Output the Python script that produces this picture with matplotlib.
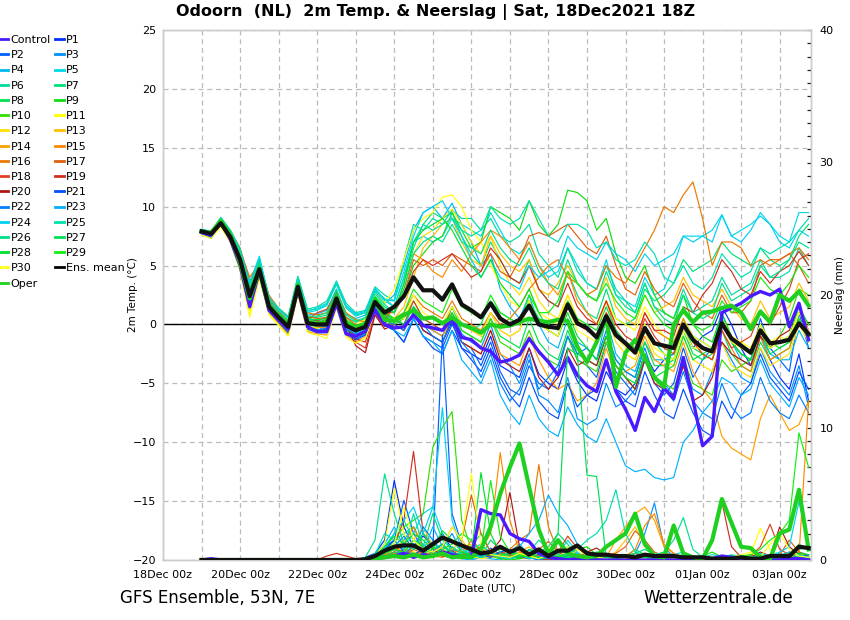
import matplotlib
matplotlib.use("Agg")
import matplotlib.pyplot as plt
import matplotlib.dates as mdates
from matplotlib.ticker import MultipleLocator
from matplotlib.lines import Line2D
import datetime as dt

# ---------------- time axis: 6-hourly steps from 19Dec2021 00z ----------------
run_start = dt.datetime(2021, 12, 18, 18)
steps_h = [6 * (k + 1) for k in range(64)]
times = [run_start + dt.timedelta(hours=h) for h in steps_h]
tick_dates = [dt.datetime(2021, 12, 18) + dt.timedelta(days=2 * k) for k in range(9)]

# ---------------- 2m temperature (°C) ----------------
temp_control = [7.8,7.6,8.7,7.2, 5.0,1.5,4.5,1.2, 0.4,-0.4,3.0,-0.2, -0.6,-0.6,1.8,-0.8,
                -1.0,-0.6,1.2,0.0, -0.3,-0.2,0.8,-0.1, -0.3,-0.5,0.5,-1.1, -1.3,-2.0,-2.3,-3.2,
                -3.0,-2.6,-1.2,-2.3, -3.2,-4.3,-2.8,-4.3, -5.2,-5.7,-3.0,-5.7, -7.2,-9.0,-6.2,-7.4,
                -5.4,-6.3,-2.8,-6.4, -10.3,-9.5,1.0,1.4, 1.8,2.4,2.8,2.5, 3.0,-0.2,1.8,-1.3]
temp_oper = [7.9,7.8,8.8,7.6, 5.3,2.2,4.6,1.5, 0.8,0.0,3.3,0.2, 0.0,0.3,2.3,0.0,
             -0.3,0.0,2.1,0.4, 0.3,0.8,1.2,0.5, 0.6,0.1,0.6,0.0, -0.3,-0.7,0.0,-0.2,
             -0.1,0.2,0.5,0.3, 0.2,0.4,0.3,-1.9, -3.2,-1.5,0.6,-5.3, -2.4,-1.3,-2.8,-4.5,
             -5.3,0.0,1.2,0.2, 1.0,1.1,1.4,1.6, 1.0,-0.4,1.1,0.2, 2.5,2.0,2.8,1.6]
temp_mean = [7.9,7.7,8.6,7.4, 5.5,2.4,4.7,1.5, 0.6,-0.2,3.2,0.1, 0.0,0.0,2.2,-0.1,
             -0.5,-0.2,1.9,1.0, 1.5,2.4,4.0,2.9, 2.9,2.1,3.4,1.7, 1.2,0.6,1.8,0.5,
             0.0,0.4,1.6,0.0, -0.2,-0.3,1.7,0.1, -0.3,-1.1,0.7,-0.9, -1.6,-2.4,-0.3,-1.6,
             -1.8,-2.0,0.0,-1.3, -2.0,-2.3,0.1,-1.2, -1.8,-2.4,-0.5,-1.6, -1.5,-1.3,0.1,-0.8]
temp_p1 = [7.8,7.5,8.4,7.0, 5.0,1.8,4.4,1.2, 0.3,-0.6,2.8,-0.3, -0.5,-0.4,1.8,-0.5,
           -0.9,-0.5,1.4,0.2, 0.0,-0.5,1.0,-0.5, -1.0,-1.5,0.2,-2.0, -2.5,-3.0,-1.0,-3.5,
           -4.0,-4.5,-2.0,-4.2, -5.0,-5.5,-3.0,-4.8, -6.0,-6.5,-4.0,-5.5, -6.0,-5.0,-2.5,-4.0,
           -3.0,-2.5,-0.5,-2.0, -1.0,-0.5,1.5,0.0, -2.0,-3.5,-1.0,-3.0, -4.5,-5.5,-2.5,-6.5]
temp_p2 = [7.7,7.3,8.5,7.3, 5.2,2.0,4.9,1.6, 0.5,-0.3,3.4,0.4, -0.2,-0.5,1.6,-0.6,
           -1.2,-0.8,1.2,0.0, -0.5,-1.5,0.5,-1.0, -1.5,-2.0,0.0,-1.5, -2.0,-3.5,-1.5,-4.0,
           -5.5,-6.0,-3.5,-5.0, -5.5,-4.0,-1.0,-3.0, -3.5,-4.5,-1.5,-4.0, -5.0,-6.0,-3.0,-5.0,
           -6.0,-5.0,-2.0,-4.5, -3.0,-2.0,0.5,-1.5, -2.5,-3.0,0.5,-2.0, -3.0,-4.0,1.0,-2.0]
temp_p3 = [7.9,7.6,8.7,7.6, 5.8,2.8,5.0,1.8, 0.8,0.0,3.6,0.5, 0.3,0.2,2.5,0.2,
           -0.3,-0.5,1.6,0.5, 0.3,0.0,1.5,0.0, -0.5,-1.0,1.0,-0.8, -1.5,-2.0,0.0,-2.5,
           -3.5,-5.0,-2.5,-6.0, -6.5,-7.5,-4.5,-8.0, -8.5,-8.0,-5.0,-7.0, -6.5,-5.5,-2.5,-4.5,
           -5.0,-6.0,-3.5,-5.5, -6.0,-4.0,-1.5,-3.0, -4.5,-5.0,-2.0,-4.0, -5.0,-6.0,-3.5,-7.0]
temp_p4 = [8.0,7.8,8.8,7.8, 6.0,3.2,5.6,2.0, 1.0,0.3,3.8,0.8, 0.9,1.2,3.0,0.9,
           0.5,0.8,2.8,1.8, 2.5,5.0,8.0,9.5, 10.0,9.0,10.3,8.5, 7.0,5.0,6.0,3.0,
           1.5,0.5,2.5,0.0, -1.5,-2.0,0.5,-1.5, -2.0,-3.0,0.5,-2.5, -3.5,-4.0,-1.5,-3.0,
           -3.0,-2.5,0.5,-1.0, -1.5,-2.0,1.0,-1.5, -3.0,-3.5,-1.0,-2.5, -3.0,-3.0,-0.5,-2.0]
temp_p5 = [8.1,7.9,8.9,7.9, 6.2,3.5,5.8,2.2, 1.2,0.5,4.0,1.0, 1.2,1.6,3.5,1.5,
           0.8,1.0,3.0,2.0, 1.5,4.0,7.0,7.5, 7.0,7.5,9.0,8.5, 8.0,7.5,9.5,8.0,
           6.5,6.0,7.0,5.0, 4.0,4.5,6.5,5.0, 3.5,3.0,5.5,2.5, 2.0,1.5,4.0,2.5,
           3.0,5.0,7.5,7.5, 7.5,8.0,9.3,7.5, 8.0,8.5,9.2,8.5, 7.5,7.0,9.5,9.5]
temp_p6 = [8.0,7.9,9.1,8.0, 6.4,3.4,5.5,2.4, 1.4,0.7,4.1,1.3, 1.5,2.0,3.7,1.8,
           1.0,1.2,3.2,2.5, 2.0,5.5,8.5,8.0, 9.0,8.5,9.7,9.0, 9.0,8.0,9.0,7.5,
           7.0,7.5,8.5,6.0, 5.0,4.0,6.5,4.5, 3.5,3.0,5.0,3.0, 2.0,1.0,3.5,1.5,
           1.0,0.5,3.0,1.0, 1.5,2.0,4.0,2.5, 3.0,3.5,5.5,4.0, 4.0,4.5,6.5,5.0]
temp_p7 = [7.9,7.8,8.8,7.7, 5.9,3.0,5.2,1.9, 0.9,0.2,3.5,0.6, 0.6,0.8,2.8,0.6,
           0.2,0.5,2.4,1.5, 1.0,3.5,6.5,8.5, 9.5,9.0,9.5,7.5, 6.0,5.0,7.0,5.5,
           4.0,3.5,5.5,3.0, 2.0,1.5,4.5,2.5, 1.0,0.5,3.0,0.5, 0.0,0.5,3.0,2.0,
           2.5,3.5,5.5,4.5, 5.0,5.5,7.0,6.0, 5.5,5.0,6.5,5.5, 5.0,5.5,7.5,8.5]
temp_p8 = [7.8,7.6,8.6,7.4, 5.4,2.5,4.6,1.4, 0.5,-0.2,3.1,0.0, -0.2,-0.1,2.0,-0.2,
           -0.6,-0.4,1.7,0.6, 0.5,0.0,1.5,0.5, 0.0,-0.5,1.5,-0.5, -1.0,-1.5,0.5,-1.0,
           -1.5,-2.0,0.5,-1.5, -2.5,-3.0,-0.5,-2.5, -3.0,-3.5,-1.0,-3.0, -4.0,-4.5,-1.5,-3.5,
           -3.5,-3.0,0.0,-2.0, -2.5,-3.0,-0.5,-2.5, -3.5,-4.0,-1.5,-3.0, -2.5,-2.0,0.5,-1.5]
temp_p9 = [7.9,7.7,8.7,7.5, 5.6,2.6,4.8,1.6, 0.7,-0.1,3.3,0.3, 0.2,0.4,2.4,0.3,
           -0.2,0.0,2.2,1.2, 1.0,2.5,5.0,6.0, 7.0,7.5,9.5,8.0, 6.5,7.0,10.0,9.5,
           9.0,8.0,10.5,8.5, 7.5,8.5,11.4,11.2, 10.5,8.0,9.0,6.0, 4.0,3.5,5.0,2.5,
           1.0,0.5,2.5,0.0, -1.0,-1.5,1.0,-1.0, -2.0,-2.5,0.0,-1.5, -2.0,-1.5,1.0,0.0]
temp_p10 = [7.8,7.5,8.5,7.2, 5.1,2.0,4.5,1.3, 0.4,-0.4,3.0,-0.1, -0.4,-0.6,1.8,-0.5,
            -1.0,-0.8,1.5,0.3, 0.0,0.5,2.0,0.5, 0.5,0.0,1.0,-0.5, -1.0,-1.5,0.5,-1.5,
            -2.0,-2.5,-0.5,-2.5, -3.0,-3.5,-1.0,-3.0, -3.5,-4.0,-1.5,-3.5, -4.5,-5.5,-2.5,-4.5,
            -5.0,-5.5,-3.0,-5.0, -5.5,-6.0,-3.0,-4.0, -3.5,-3.0,-0.5,-2.0, -1.0,0.5,3.0,2.5]
temp_p11 = [7.6,7.4,8.3,7.0, 4.6,0.8,4.0,0.9, 0.0,-0.8,2.6,-0.5, -0.6,-0.2,2.4,0.4,
            0.0,0.4,2.6,1.8, 3.0,5.5,8.0,9.0, 9.5,10.8,11.0,10.0, 8.0,7.0,5.0,3.5,
            2.0,1.5,3.0,1.0, 0.5,0.0,2.5,0.5, 0.0,-0.5,2.0,0.5, 0.0,-0.5,1.5,0.0,
            -1.0,-1.5,0.5,-1.0, -1.5,-2.0,0.5,-1.0, -1.5,-2.0,0.0,-1.5, -1.0,-1.5,1.0,0.0]
temp_p12 = [7.7,7.5,8.4,7.1, 4.8,1.2,4.2,1.0, 0.2,-0.6,2.9,-0.2, -0.3,0.0,2.3,0.2,
            -0.3,0.1,2.2,1.2, 1.0,3.0,6.0,7.5, 8.0,9.0,9.8,8.5, 7.0,6.0,7.5,5.0,
            3.5,2.5,4.0,2.0, 1.0,0.5,2.5,0.5, -0.5,-1.0,1.0,-1.5, -2.5,-3.0,-0.5,-2.5,
            -3.0,-3.5,-1.0,-3.0, -3.5,-4.0,-1.5,-3.5, -4.0,-4.5,-2.0,-3.5, -3.0,-2.5,0.0,-1.5]
temp_p13 = [7.8,7.6,8.5,7.3, 5.2,1.8,4.5,1.4, 0.5,-0.3,3.1,0.1, 0.0,0.2,2.4,0.1,
            -0.4,-0.1,2.0,0.9, 0.5,1.5,4.0,6.5, 7.5,8.5,9.0,7.0, 5.5,5.0,7.5,6.0,
            5.0,4.5,5.5,3.0, 2.5,3.5,5.0,3.5, 2.5,2.0,4.0,1.5, 0.5,0.0,2.5,1.0,
            1.5,2.0,4.0,2.5, 2.0,1.5,3.0,1.5, 0.5,0.0,2.0,0.5, 1.0,1.5,3.5,2.0]
temp_p14 = [7.7,7.4,8.4,7.2, 4.9,1.5,4.3,1.1, 0.1,-0.9,2.7,-0.6, -0.8,-0.9,1.5,-0.9,
            -1.5,-1.0,1.3,0.1, 0.0,-0.5,1.0,0.0, -0.5,-1.0,0.5,-1.5, -2.0,-2.5,-0.5,-2.5,
            -3.0,-3.5,-1.0,-3.0, -4.5,-5.5,-5.0,-6.5, -6.0,-5.0,-2.0,-4.5, -4.0,-3.5,-1.0,-3.0,
            -3.5,-4.0,-1.5,-4.0, -5.5,-6.5,-9.5,-10.5, -11.0,-11.5,-8.0,-6.0, -7.5,-9.0,-8.5,-6.5]
temp_p15 = [7.8,7.5,8.6,7.4, 5.4,2.2,4.6,1.5, 0.5,-0.3,3.2,0.2, -0.2,-0.3,2.0,-0.3,
            -0.9,-0.6,1.6,0.6, 1.5,3.0,6.0,5.5, 4.5,4.0,5.5,4.5, 6.0,7.0,8.0,7.5,
            6.5,5.5,7.0,5.0, 3.5,2.5,4.5,2.0, 1.0,0.0,2.0,-0.5, -1.5,-2.0,1.0,-0.5,
            -1.0,-1.5,0.5,-1.5, -2.5,-3.0,-0.5,-2.0, -3.5,-4.0,-1.0,-3.0, -2.5,-2.0,0.5,-1.0]
temp_p16 = [7.9,7.7,8.8,7.8, 6.3,4.0,5.2,2.5, 1.3,0.6,3.6,1.0, 0.8,1.0,2.8,1.0,
            0.4,0.2,2.1,0.9, 0.5,1.0,2.5,1.5, 1.0,0.5,2.0,0.5, 0.0,-0.5,1.0,0.0,
            0.5,1.5,3.0,4.0, 5.0,5.5,4.0,3.5, 2.5,3.0,5.0,4.0, 3.5,5.0,6.5,8.0,
            10.0,9.5,11.0,12.1, 9.0,5.0,7.0,7.0, 6.5,5.0,5.5,5.0, 5.5,6.0,6.5,5.5]
temp_p17 = [8.0,7.8,8.9,7.9, 6.5,3.7,5.0,2.2, 1.1,0.3,3.4,0.7, 0.5,0.6,2.6,0.6,
            0.0,-0.2,2.0,1.0, 1.0,2.5,5.5,5.0, 5.5,5.0,6.0,5.5, 5.0,4.5,6.0,4.5,
            4.0,5.5,7.5,7.8, 7.5,8.0,8.5,7.5, 6.5,6.0,7.5,5.0, 3.0,2.5,4.5,3.0,
            2.0,1.5,3.5,2.0, 1.0,0.5,2.5,1.0, 1.0,2.0,5.0,5.5, 5.5,6.0,5.0,3.5]
temp_p18 = [7.9,7.7,8.7,7.6, 5.9,3.1,4.9,1.9, 0.8,0.1,3.3,0.4, 1.0,1.3,2.7,0.5,
            -1.5,-2.0,0.9,-0.2, 0.5,0.0,2.0,0.5, 0.0,-0.5,1.5,0.0, -0.5,-1.0,1.0,-0.5,
            -1.0,-0.5,2.0,0.0, -0.5,-1.0,1.5,0.0, -0.5,-1.0,1.0,-0.5, -1.5,-2.0,0.5,-1.0,
            -2.0,-2.5,0.0,-1.5, -2.5,-3.0,-0.5,-2.0, -1.5,-1.0,1.0,0.0, 1.5,3.0,5.5,6.0]
temp_p19 = [7.9,7.7,8.6,7.5, 5.7,2.8,4.8,1.7, 0.7,0.0,3.2,0.3, 0.3,0.6,2.5,0.4,
            -1.2,-1.5,1.2,0.4, 1.5,2.5,4.5,5.5, 5.0,5.5,6.0,5.0, 4.0,4.5,6.5,5.5,
            4.0,3.5,5.0,3.0, 2.0,1.5,3.5,1.5, 0.5,0.0,2.0,0.0, -1.0,-1.5,1.0,-0.5,
            -0.5,-1.0,1.5,1.0, 2.5,3.5,5.5,4.5, 3.0,2.5,4.5,3.5, 4.5,5.0,6.2,5.0]
temp_p20 = [7.8,7.6,8.5,7.4, 5.4,2.4,4.6,1.5, 0.6,-0.2,3.0,0.0, 0.1,0.4,2.2,0.0,
            -1.8,-2.4,0.8,-0.4, 0.0,-0.5,1.0,-0.5, -1.0,-1.5,0.5,-1.5, -2.0,-2.5,-0.5,-3.0,
            -3.5,-4.0,-2.0,-4.5, -5.5,-4.5,-2.0,-3.5, -3.0,-3.5,-1.0,-3.5, -4.5,-5.5,-3.0,-5.0,
            -5.5,-6.0,-3.5,-6.5, -6.0,-4.5,-1.5,-2.5, -3.0,-3.5,-1.0,-2.0, -1.0,-0.5,1.5,-0.5]
temp_p21 = [7.7,7.4,8.4,7.1, 5.0,1.6,4.3,1.1, 0.2,-0.7,2.8,-0.4, -0.7,-0.7,1.6,-0.8,
            -1.3,-0.9,1.3,-0.1, -0.5,-1.5,0.5,-1.0, -2.0,-2.5,-0.5,-2.0, -3.0,-4.0,-2.0,-4.5,
            -6.0,-7.0,-4.5,-6.5, -7.5,-8.0,-5.0,-7.0, -6.0,-5.5,-3.0,-5.5, -6.5,-7.0,-4.0,-6.0,
            -7.5,-8.0,-5.5,-7.5, -9.0,-9.5,-6.5,-8.0, -6.0,-5.0,-2.5,-4.5, -5.5,-6.5,-4.0,-5.5]
temp_p22 = [7.8,7.5,8.5,7.3, 5.3,2.1,4.5,1.4, 0.4,-0.5,3.0,-0.2, -0.5,-0.3,1.9,-0.4,
            -0.8,-0.6,1.5,0.3, 0.0,-0.5,1.0,0.0, -1.0,-1.5,0.5,-1.5, -2.5,-4.5,-2.5,-5.0,
            -6.5,-5.5,-3.0,-5.5, -4.5,-3.5,-1.0,-2.5, -2.0,-3.0,-0.5,-3.0, -4.0,-4.5,-2.0,-4.5,
            -5.5,-6.5,-4.0,-6.5, -7.5,-8.0,-5.0,-7.0, -8.0,-7.5,-4.5,-6.5, -7.5,-8.0,-6.0,-7.5]
temp_p23 = [7.9,7.6,8.6,7.5, 5.6,2.5,4.9,1.7, 0.7,0.0,3.4,0.3, -0.1,-0.2,2.1,-0.3,
            -0.7,-0.5,1.6,0.4, -0.5,-1.0,0.5,-1.0, -1.5,-2.5,-0.5,-3.0, -4.0,-5.0,-3.0,-6.0,
            -7.5,-8.5,-6.0,-8.0, -9.0,-9.5,-7.0,-8.5, -9.5,-10.0,-8.0,-10.0, -12.0,-12.5,-12.3,-13.0,
            -13.2,-13.0,-10.0,-9.0, -7.5,-6.5,-4.5,-5.0, -6.0,-5.5,-3.0,-5.0, -6.0,-7.0,-4.5,-6.0]
temp_p24 = [8.0,7.8,8.9,7.9, 6.3,3.6,5.6,2.3, 1.2,0.6,3.9,1.1, 1.4,1.8,3.5,1.6,
            0.9,1.1,3.1,2.1, 2.0,4.5,7.5,9.5, 10.0,10.5,9.0,7.5, 5.5,4.0,5.5,4.0,
            3.5,3.0,5.0,4.0, 4.5,5.0,7.5,6.5, 6.0,5.5,7.0,6.0, 5.5,4.5,6.0,5.0,
            5.5,6.0,7.5,7.0, 7.5,7.0,9.3,7.5, 7.0,8.0,9.5,8.5, 7.0,6.5,8.0,7.5]
temp_p25 = [8.0,7.9,9.0,8.0, 6.4,3.3,5.4,2.3, 1.3,0.6,4.0,1.2, 1.3,1.7,3.4,1.4,
            0.7,1.0,2.9,2.2, 1.5,4.0,7.0,8.5, 8.0,8.5,9.0,8.0, 7.5,8.0,10.0,9.0,
            8.5,9.0,10.5,9.0, 7.5,7.0,8.5,8.5, 8.0,6.5,7.0,5.5, 5.0,5.5,7.0,6.0,
            4.0,3.5,5.0,3.5, 3.0,4.0,6.0,5.0, 4.0,4.5,6.5,6.0, 6.5,7.0,8.0,9.0]
temp_p26 = [7.9,7.8,8.9,7.8, 6.1,3.0,5.1,2.0, 1.0,0.3,3.6,0.7, 0.7,1.0,2.9,0.8,
            0.3,0.6,2.6,1.7, 1.0,3.0,6.0,7.0, 7.5,7.0,8.5,7.0, 6.5,6.0,8.0,6.5,
            5.5,5.0,6.5,4.5, 3.5,3.0,5.5,3.5, 2.5,2.0,4.5,2.5, 1.5,1.0,3.5,1.5,
            0.5,0.0,2.5,1.0, 0.5,1.0,3.5,2.0, 2.5,3.0,5.0,4.0, 4.5,5.5,7.0,6.5]
temp_p27 = [7.8,7.6,8.6,7.5, 5.5,2.6,4.8,1.6, 0.6,-0.1,3.2,0.2, 0.1,0.3,2.3,0.1,
            -0.4,-0.2,1.9,0.8, 0.5,0.0,1.5,0.5, 0.5,0.0,1.5,0.0, -0.5,0.0,2.0,1.0,
            0.5,0.0,2.0,0.5, 0.0,-0.5,2.0,0.5, 0.0,-0.5,1.5,-0.5, -1.5,-2.0,0.0,-1.5,
            -2.5,-3.0,-0.5,-2.5, -3.0,-2.5,0.0,-1.5, -2.5,-3.0,-0.5,-2.5, -2.0,-1.5,0.5,-1.0]
temp_p28 = [7.9,7.7,8.8,7.6, 5.8,2.9,5.0,1.8, 0.8,0.1,3.5,0.5, 0.4,0.5,2.6,0.4,
            -0.1,0.2,2.3,1.3, 1.0,3.5,7.0,8.0, 8.5,9.0,8.0,6.5, 5.0,4.0,5.5,3.5,
            2.5,1.5,3.0,1.0, -0.5,-1.0,1.0,-1.0, -2.0,-3.0,-1.0,-3.5, -4.5,-5.0,-2.5,-4.5,
            -4.0,-3.5,-1.0,-3.0, -2.5,-2.0,0.5,-1.5, -2.5,-3.0,-0.5,-2.0, -1.5,-1.0,1.5,0.0]
temp_p29 = [8.0,7.8,8.9,7.7, 5.7,2.7,4.9,1.7, 0.7,0.0,3.3,0.4, 0.2,0.3,2.4,0.3,
            -0.3,0.0,2.1,1.1, 0.5,1.0,3.0,2.0, 1.5,1.0,3.0,1.5, 1.0,0.5,2.5,1.0,
            0.5,0.0,2.5,1.0, 1.0,2.0,4.5,3.5, 2.5,2.0,3.5,2.0, 1.0,0.5,2.5,1.0,
            0.0,-0.5,1.5,0.0, -0.5,0.0,2.0,1.0, 1.5,2.0,4.0,3.0, 2.5,3.5,5.0,4.0]
temp_p30 = [7.6,7.3,8.3,6.9, 4.5,0.6,3.9,0.8, -0.1,-1.0,2.5,-0.7, -0.9,-1.2,1.4,-1.1,
            -1.6,-1.2,1.1,0.0, 0.5,0.5,2.5,1.0, 0.5,0.0,1.5,0.0, -0.5,-1.0,1.0,-0.5,
            -1.0,-0.5,2.0,0.0, -0.5,-1.0,1.5,-0.5, -1.0,-1.5,0.5,-1.0, -2.0,-2.5,0.0,-2.0,
            -2.5,-3.0,-0.5,-2.0, -2.0,-2.5,0.0,-1.5, -2.0,-2.5,-0.5,-2.0, -1.5,-1.0,1.0,-0.5]

# ---------------- 6-hourly precipitation (mm) ----------------
prec_control = [0,0.1,0,0, 0,0,0,0, 0,0,0,0, 0,0,0,0,
                0,0,0.1,0.2, 0.3,0.5,0.2,0.4, 0.3,0.6,0.4,0.3, 0.2,3.8,3.5,3.4,
                2.0,1.6,1.4,0.5, 0.2,0.1,0,0.1, 0.1,0,0,0, 0,0,0,0,
                0,0,0,0, 0,0.1,0.3,0.2, 0.1,0,0,0, 0,0.1,0.1,0]
prec_oper = [0,0,0,0, 0,0,0,0, 0,0,0,0, 0,0,0,0,
             0,0,0.1,0.2, 0.3,0.2,0.4,0.2, 0.3,0.5,0.2,0.3, 0.2,0.8,2.5,5.0,
             7.0,8.8,5.5,2.3, 0.4,1.5,0.5,0.3, 0.2,0.3,1.0,1.5, 2.0,3.5,1.2,0.3,
             0.2,2.6,0.5,0.2, 0.1,1.5,4.6,2.8, 1.0,0.9,0.2,0.1, 2.0,2.3,5.3,0.8]
prec_mean = [0,0,0,0, 0,0,0,0, 0,0,0,0, 0,0,0,0,
             0,0.05,0.3,0.7, 1.0,1.1,1.1,0.7, 1.2,1.7,1.4,1.1, 0.8,0.5,0.6,1.0,
             0.6,0.9,0.4,0.8, 0.3,0.7,0.7,1.1, 0.5,0.4,0.4,0.3, 0.3,0.2,0.4,0.3,
             0.3,0.3,0.2,0.2, 0.2,0.1,0.1,0.1, 0.2,0.1,0.1,0.3, 0.3,0.3,1.0,0.9]
prec_p1 = [0,0,0,0, 0,0,0,0, 0,0,0,0, 0,0,0,0,
           0,0.2,0.5,1.5, 6.0,2.5,1.0,1.8, 1.2,2.0,0.8,0.5, 0.3,1.0,0.6,0.2,
           0.4,0.2,0.8,0.3, 0.1,0.3,0.1,0, 0.2,0.1,0,0.1, 0,0,0.1,0,
           0,0.2,0.1,0, 0,0,0.1,0.3, 0.1,0,0,0.2, 0.3,0.6,0.4,0.1]
prec_p2 = [0,0.1,0.1,0, 0,0.1,0,0, 0,0,0,0, 0,0,0,0,
           0,0,0.3,1.0, 1.5,4.5,2.0,0.8, 0.8,17.0,3.5,1.2, 0.5,0.3,0.9,0.4,
           0.2,0.5,0.2,0.1, 0,0.1,0.3,0.2, 0.5,0.1,0,0, 0.2,0.1,0,0,
           0,0,0.1,0, 0,0,0,0.1, 0.2,0.1,0,0, 0,0.1,0.3,0.2]
prec_p3 = [0,0,0.1,0.1, 0.1,0,0,0, 0,0,0,0, 0,0,0,0,
           0,0,0.2,0.4, 0.8,1.5,2.5,1.0, 0.5,1.0,2.0,0.6, 0.3,0.2,0.5,0.2,
           0.1,0.3,0.2,0, 0,0.1,0,0, 0,0.2,0.4,0.2, 0.1,0.5,2.0,4.3,
           1.0,0.2,0.1,0, 0,0,0,0, 0,0.1,0.2,0, 0.1,0.2,0.1,0]
prec_p4 = [0,0,0,0, 0,0,0,0, 0,0,0,0, 0,0,0,0,
           0,0.1,0.4,1.2, 2.5,1.0,0.5,0.3, 0.2,0.5,0.3,0.1, 0,0.2,0.1,0,
           0.4,0.6,0.2,0.1, 0.3,0.5,1.0,0.5, 0.2,0,0.1,0, 0,0,0.2,0.1,
           0.3,0.5,0.2,0, 0.1,0,0,0, 0,0,0.1,0, 0.5,0.2,0.1,0]
prec_p5 = [0,0,0,0, 0,0,0,0, 0,0,0,0, 0,0,0,0,
           0,0,0.1,0.5, 1.2,0.8,2.0,3.5, 4.0,2.0,0.5,0.2, 0.1,0.3,0.4,0.1,
           0.6,1.2,0.4,0.2, 0.2,0.4,1.5,0.6, 0.1,0.3,0.2,0.1, 0,0.2,0.1,0,
           0.1,0.4,0.6,0.2, 0.1,0,0.2,0.3, 0.4,0.2,0.1,0, 0.2,0.5,0.8,1.0]
prec_p6 = [0,0,0,0, 0,0,0,0, 0,0,0,0, 0,0,0,0,
           0,0,0.5,1.0, 2.0,3.0,1.5,1.2, 0.6,0.3,1.0,0.4, 0.2,0.5,0.3,0.1,
           0.3,0.2,0.6,1.5, 0.8,0.4,0.2,0.1, 0,0.1,0.3,0.2, 0.4,0.3,0.1,0,
           0,0.1,0.3,0.2, 0.1,0,0.2,0.4, 0.2,0,0.1,0, 0.3,0.2,0.6,0.4]
prec_p7 = [0,0,0,0, 0,0,0,0, 0,0,0,0, 0,0,0,0,
           0,0.1,0.3,0.8, 1.5,2.0,2.5,1.0, 3.5,1.5,0.8,0.5, 1.0,2.0,0.6,0.3,
           0.2,0.1,0.3,0.2, 0.6,2.0,1.2,0.3, 0.2,0.1,0,0.1, 0.3,0.1,0.5,0.2,
           0,0,0.1,0, 0.2,0.1,0,0.1, 0,0.3,0.2,0.1, 0.5,0.3,1.2,0.8]
prec_p8 = [0,0,0,0, 0,0,0,0, 0,0,0,0, 0,0,0,0,
           0,0,0.2,0.6, 1.0,0.5,1.0,2.0, 1.2,0.8,0.4,0.6, 0.4,0.3,1.5,0.8,
           0.6,0.4,0.2,0.1, 0.3,0.1,0.1,0, 0.1,0.3,0.1,0, 0.2,0.8,0.4,0.1,
           0.1,0.2,0.1,0, 0,0.1,0,0.2, 0.3,0.2,0,0.1, 0.2,0.4,0.6,0.3]
prec_p9 = [0,0,0,0, 0,0,0,0, 0,0,0,0, 0,0,0,0,
           0,0,0.1,0.2, 0.3,0.6,0.4,0.2, 0.5,0.3,0.2,0.1, 0.2,0.4,0.3,0.1,
           0,0.1,0.2,0.1, 0.3,0.1,0.5,0.8, 1.0,0.4,0.1,0, 0.2,0.5,0.3,0.1,
           0.4,0.2,0.1,0, 0.3,0.6,0.2,0.1, 0.1,0.2,0.4,0.3, 0.2,0.1,0.2,0.1]
prec_p10 = [0,0,0,0, 0,0,0,0, 0,0,0,0, 0,0,0,0,
            0,0,0.2,0.5, 1.5,2.5,3.0,3.5, 8.5,10.0,11.2,3.0, 0.8,0.5,0.3,0.2,
            0.1,0.3,0.2,0.1, 0.2,0.1,0,0, 0,0.1,0.2,0.1, 0,0.1,0,0,
            0.2,0.1,0,0, 0,0.1,0.2,0, 0.1,0,0,0.1, 0.2,0.3,0.1,0.2]
prec_p11 = [0,0,0,0, 0,0,0,0, 0,0,0,0, 0,0,0,0,
            0,0,0.3,1.2, 5.4,2.0,0.6,0.3, 0.4,1.0,0.5,0.2, 0.3,0.1,0.2,0.4,
            0.2,0.5,0.3,0.1, 1.0,0.3,0.1,0, 0.1,0.2,0.5,0.3, 0.1,0,0.2,0.1,
            0,0.1,0.3,0.2, 0,0,0.1,0, 0,0.5,2.4,0.8, 0.2,0.1,0.3,0.1]
prec_p12 = [0,0,0,0, 0,0,0,0, 0,0,0,0, 0,0,0,0,
            0,0,0.2,0.4, 0.8,1.5,0.6,0.4, 0.9,0.5,0.3,0.7, 1.2,0.6,0.3,0.2,
            0.4,0.2,0.6,0.3, 0.1,0.2,0.1,0.8, 0.6,0.2,0.1,0, 0.1,0.2,0.1,0,
            0.3,0.1,0,0, 0.1,0.2,0.1,0, 0.2,0.1,0,0, 0.1,0.3,0.5,0.2]
prec_p13 = [0,0,0,0, 0,0,0,0, 0,0,0,0, 0,0,0,0,
            0,0,0.1,0.3, 1.0,0.6,1.5,2.5, 1.0,0.5,0.8,1.5, 0.6,0.3,0.2,0.4,
            0.3,0.6,1.0,0.4, 0.2,0.1,0.3,0.2, 0.1,0,0.2,0.6, 1.5,2.5,1.0,0.3,
            0.2,0.1,0,0, 0.1,0,0,0.1, 0.2,0.4,0.1,0, 0.3,0.2,0.1,0.2]
prec_p14 = [0,0,0,0, 0,0,0,0, 0,0,0,0, 0,0,0,0,
            0,0,0.1,0.6, 1.0,0.5,0.4,0.3, 0.6,0.3,1.0,0.5, 0.2,0.4,0.8,0.3,
            0.5,0.2,0.1,0.3, 0.6,0.2,0.1,0.4, 0.5,0.3,0.2,1.5, 2.5,3.5,4.0,3.0,
            1.0,0.5,0.2,0.1, 0,0,0.1,0, 0,0.1,0,0, 0.1,0,0.2,0.1]
prec_p15 = [0,0,0,0, 0,0,0,0, 0,0,0,0, 0,0,0,0,
            0,0,0.2,0.4, 0.6,1.2,2.5,1.0, 0.5,0.8,0.3,0.4, 1.5,0.8,2.0,8.1,
            3.0,0.6,0.4,0.2, 0.3,0.1,0.2,0.4, 0.2,0.1,0,0.2, 0.3,0.8,2.6,3.5,
            1.2,0.5,0.2,0, 0.1,0,0,0.1, 0.2,0,0,0.1, 0.1,0.2,0.3,12.0]
prec_p16 = [0,0,0,0, 0,0,0,0, 0,0,0,0, 0,0,0,0,
            0,0,0.1,0.3, 0.5,0.8,0.4,0.6, 0.3,0.2,0.5,0.8, 1.0,0.6,0.3,0.4,
            0.8,1.5,2.0,7.2, 2.5,0.6,0.2,0.1, 0.3,0.5,0.2,0.1, 0,0.2,0.5,0.3,
            0.6,0.3,0.1,0, 0,0.1,0,0, 0.1,0.3,0.2,0.1, 0.2,0.1,0,0.1]
prec_p17 = [0,0,0,0, 0,0,0,0, 0,0,0,0, 0,0,0,0,
            0,0,0.1,0.2, 0.4,0.3,0.8,0.5, 0.4,1.0,2.5,1.5, 4.9,2.0,0.6,0.3,
            0.2,0.5,0.3,0.8, 1.4,0.6,0.2,0.1, 0.2,0.1,0.3,0.5, 1.0,2.2,1.5,0.6,
            0.3,0.2,0.1,0, 0,0,0.2,0.1, 0,0.1,0.3,0.2, 0.4,1.5,0.6,0.3]
prec_p18 = [0,0,0,0, 0,0,0,0, 0,0,0,0, 0,0,0,0,
            0,0,0.1,0.3, 0.6,0.4,1.0,0.8, 0.5,0.3,0.2,0.4, 0.6,1.0,0.4,0.2,
            0.3,0.2,0.5,0.3, 0.2,0.6,1.8,0.9, 0.4,0.2,0.1,0, 0.1,0,0.3,0.2,
            0.5,0.3,0.1,0, 0,0.1,0,0, 0.1,0.3,1.0,2.7, 0.8,0.4,0.2,0.1]
prec_p19 = [0,0,0,0, 0,0,0,0, 0,0,0,0, 0,0.3,0.5,0.3,
            0.1,0,0.1,0.5, 1.2,3.0,8.2,2.0, 0.8,0.4,0.6,0.3, 0.2,0.5,0.3,0.6,
            0.4,0.2,0.3,0.1, 0,0.2,0.4,0.2, 0.1,0,0.2,0.1, 0.3,0.5,0.2,0.1,
            0,0,0.1,0, 0.2,1.5,4.4,1.0, 0.2,0.1,0,0, 0.1,0.2,0.1,0]
prec_p20 = [0,0,0,0, 0,0,0,0, 0,0,0,0, 0,0,0,0,
            0,0,0.1,0.2, 0.4,0.6,0.3,0.2, 0.3,0.5,0.7,0.2, 0.4,0.8,0.6,1.5,
            5.1,1.0,0.4,0.2, 0.3,0.1,0.2,0.1, 0.6,0.9,0.4,0.1, 0.2,0.1,0,0,
            0,0.2,0.1,0, 0,0.1,0,0, 0,0.2,0.6,0.3, 2.5,1.0,0.4,0.2]
prec_p21 = [0,0,0,0, 0,0,0,0, 0,0,0,0, 0,0,0,0,
            0,0,0.3,0.8, 1.5,0.6,0.4,0.8, 0.6,1.2,0.5,0.2, 0.3,0.4,0.2,0.6,
            0.8,0.3,0.1,0.2, 0.5,0.2,0.1,0, 0.1,0.4,0.2,0.1, 0,0.1,0.2,0.1,
            0,0,0.1,0.2, 0.3,0.1,0,0, 0,0.1,0.3,0.2, 0.1,0,0.2,0.4]
prec_p22 = [0,0,0,0, 0,0,0,0, 0,0,0,0, 0,0,0,0,
            0,0,0.2,0.6, 1.0,1.8,0.8,2.5, 1.5,0.6,0.3,0.2, 0.5,0.3,0.6,0.2,
            0.1,0.3,0.2,0, 0.2,0.1,0.3,0.1, 0,0.1,0.2,0.1, 0.4,0.2,0.1,0,
            0.1,0,0.1,0, 0,0,0.1,0, 0.1,0.2,0.1,0, 0,0.1,0.3,0.1]
prec_p23 = [0,0,0,0, 0,0,0,0, 0,0,0,0, 0,0,0,0,
            0,0,0.1,0.5, 0.8,0.4,1.2,0.6, 2.5,1.0,0.6,0.3, 0.2,0.6,0.4,0.3,
            0.5,1.0,2.0,3.0, 4.9,3.5,2.6,1.2, 0.5,0.2,0.1,0, 0,0.1,0,0,
            0.1,0,0,0, 0,0,0.1,0, 0.1,0,0,0, 0,0.2,0.1,0]
prec_p24 = [0,0,0,0, 0,0,0,0, 0,0,0,0, 0,0,0,0,
            0,0,0.2,0.8, 2.0,3.0,4.0,2.0, 4.0,11.5,3.0,0.8, 0.4,0.2,0.6,0.3,
            0.2,0.4,0.1,0.2, 0.3,0.1,0.2,0.1, 0.2,0.6,0.3,0.1, 0.1,0.3,0.2,0.1,
            0.3,0.2,0.1,0, 0.1,0.2,0.3,0.1, 0.2,0.1,0.5,0.3, 0.6,1.0,4.4,1.2]
prec_p25 = [0,0,0,0, 0,0,0,0, 0,0,0,0, 0,0,0,0,
            0,0.1,0.4,2.0, 1.5,0.8,3.5,1.0, 0.6,0.4,1.0,0.5, 0.8,1.2,0.4,0.2,
            0.1,0.3,0.6,0.2, 0.4,0.2,0.5,0.8, 1.5,2.0,3.0,5.3, 2.0,0.6,0.3,0.2,
            0.1,0.2,0.4,0.1, 0.2,0.4,0.3,0.1, 0.2,0.3,0.1,0.1, 0.3,0.6,0.4,0.2]
prec_p26 = [0,0,0,0, 0,0,0,0, 0,0,0,0, 0,0,0,0,
            0,0.2,1.5,6.5, 3.5,1.2,0.8,2.0, 1.0,0.5,0.3,0.6, 0.4,0.2,0.5,0.3,
            0.6,0.3,0.2,0.1, 0.2,0.4,0.3,0.1, 0.2,0.1,0,0.1, 0.3,0.5,0.8,0.4,
            0.6,1.5,3.2,0.8, 0.2,0.1,0,0, 0.1,0.2,0.1,0, 0.2,0.1,0.3,0.2]
prec_p27 = [0,0,0,0, 0,0,0,0, 0,0,0,0, 0,0,0,0,
            0,0,0.1,0.3, 0.6,0.4,0.3,0.5, 0.8,1.2,0.5,0.3, 0.2,0.6,0.4,0.3,
            0.5,0.3,0.8,0.6, 1.0,2.0,16.0,15.5, 6.4,6.3,0.2,0.1, 0,0.1,0.2,0.1,
            0,0.1,0,0, 0.1,0,0,0.1, 0.2,0.1,0,0, 0.1,0.2,0.1,0]
prec_p28 = [0,0,0,0, 0,0,0,0, 0,0,0,0, 0,0,0,0,
            0,0,0.3,1.0, 1.8,1.2,2.0,1.5, 0.8,2.2,1.5,0.6, 0.4,6.6,2.0,0.5,
            0.3,0.2,0.4,0.2, 0.1,0.3,0.2,0, 0.3,0.6,0.4,0.1, 0.2,0.1,0,0,
            0.1,0,0.2,0.1, 0,0.1,0,0, 0.1,0,0,0.2, 0.3,0.2,0.5,0.4]
prec_p29 = [0,0,0,0, 0,0,0,0, 0,0,0,0, 0,0,0,0,
            0,0,0.2,0.5, 0.8,0.6,1.5,1.0, 0.4,0.8,1.2,2.0, 1.5,0.6,6.0,1.8,
            0.6,0.4,0.2,0.5, 0.3,0.2,0.6,0.3, 0.2,0.1,0.3,0.2, 0.1,0.2,0.1,0,
            0.2,0.1,0.3,0.2, 0.1,0,0.2,0.1, 0.3,0.4,0.8,1.5, 2.0,3.0,9.6,7.0]
prec_p30 = [0,0,0,0, 0,0,0,0, 0,0,0,0, 0,0,0,0,
            0,0,0.2,0.6, 1.2,4.0,1.5,0.8, 0.6,1.0,2.5,1.5, 6.5,1.0,0.4,0.3,
            0.2,0.5,0.3,0.1, 0.4,0.6,1.0,0.8, 0.3,0.2,0.1,0, 0.1,0.2,0.1,0,
            0,0.1,0,0, 0,0.1,0.3,0.2, 0.4,0.6,0.2,1.2, 2.0,0.8,0.3,0.2]

member_names = ["P%d" % k for k in range(1, 31)]
member_colors = ["#0030ff", "#0060ff", "#0090ff", "#00b8f0", "#00d8e8", "#00dca0",
                 "#00e078", "#00e050", "#10dd10", "#30e000", "#ffff00", "#ffe000",
                 "#ffc000", "#ffa000", "#ff8800", "#e87800", "#e06010", "#e04020",
                 "#d03020", "#b01818", "#0050ff", "#0080ff", "#00b0ff", "#00d0f0",
                 "#00e0b0", "#00e088", "#00e058", "#00e030", "#10f010", "#ffff20"]
control_color = "#4a1aff"
oper_color = "#20d020"
mean_color = "#111111"

temp_members = [temp_p1, temp_p2, temp_p3, temp_p4, temp_p5, temp_p6, temp_p7, temp_p8,
                temp_p9, temp_p10, temp_p11, temp_p12, temp_p13, temp_p14, temp_p15,
                temp_p16, temp_p17, temp_p18, temp_p19, temp_p20, temp_p21, temp_p22,
                temp_p23, temp_p24, temp_p25, temp_p26, temp_p27, temp_p28, temp_p29, temp_p30]
prec_members = [prec_p1, prec_p2, prec_p3, prec_p4, prec_p5, prec_p6, prec_p7, prec_p8,
                prec_p9, prec_p10, prec_p11, prec_p12, prec_p13, prec_p14, prec_p15,
                prec_p16, prec_p17, prec_p18, prec_p19, prec_p20, prec_p21, prec_p22,
                prec_p23, prec_p24, prec_p25, prec_p26, prec_p27, prec_p28, prec_p29, prec_p30]

# ---------------- figure ----------------
plt.rcParams['font.family'] = ['DejaVu Sans']
fig = plt.figure(figsize=(8.5, 6.2), dpi=100)
ax = fig.add_axes([163/850, 60/620, 648/850, 530/620])
ax2 = ax.twinx()

grid_col = "#bbbbbb"
spine_col = "#cccccc"

# temperature
for vals, col in zip(temp_members, member_colors):
    ax.plot(times, vals, color=col, lw=0.85, zorder=3)
ax.plot(times, temp_control, color=control_color, lw=2.4, zorder=4)
ax.plot(times, temp_oper, color=oper_color, lw=3.0, zorder=5)
ax.plot(times, temp_mean, color=mean_color, lw=3.0, zorder=6)
ax.axhline(0, color="black", lw=1.0, zorder=2.5)

# precipitation
for vals, col in zip(prec_members, member_colors):
    ax2.plot(times, vals, color=col, lw=0.85, zorder=3)
ax2.plot(times, prec_control, color=control_color, lw=2.4, zorder=4)
ax2.plot(times, prec_oper, color=oper_color, lw=3.0, zorder=5)
ax2.plot(times, prec_mean, color=mean_color, lw=3.0, zorder=6)

ax.set_xlim(dt.datetime(2021, 12, 18, 0), dt.datetime(2022, 1, 3, 19, 30))
ax.set_ylim(-20, 25)
ax2.set_ylim(0, 40)

ax.set_xticks(tick_dates)
ax.xaxis.set_major_formatter(mdates.DateFormatter('%d%b %Hz'))
ax.xaxis.set_minor_locator(mdates.DayLocator())
ax.yaxis.set_major_locator(MultipleLocator(5))
ax.grid(True, which='both', axis='x', color=grid_col, ls=(0, (4, 3)), lw=0.9)
ax.grid(True, which='major', axis='y', color=grid_col, ls=(0, (4, 3)), lw=0.9)
ax.set_axisbelow(True)
ax.tick_params(axis='both', which='both', length=0, labelsize=8, pad=5)
ax.tick_params(axis='x', pad=7)

ax2.yaxis.set_major_locator(MultipleLocator(10))
ax2.yaxis.set_minor_locator(MultipleLocator(1))
ax2.tick_params(axis='y', which='both', direction='in', length=3, width=0.9,
                color='#222222', labelsize=8, pad=6)

for a in (ax, ax2):
    for s in a.spines.values():
        s.set_color(spine_col)
        s.set_linewidth(1.0)

ax.set_xlabel("Date (UTC)", fontsize=7.5, labelpad=3)
ax.set_ylabel("2m Temp. (°C)", fontsize=7.5, labelpad=-4)
ax2.set_ylabel("Neerslag (mm)", fontsize=7.5, labelpad=1)

fig.text(0.512, 0.981, "Odoorn  (NL)  2m Temp. & Neerslag | Sat, 18Dec2021 18Z",
         ha='center', va='center', fontsize=11.5, fontweight='bold')
fig.text(120/850, 1 - 598/620, "GFS Ensemble, 53N, 7E", ha='left', va='center', fontsize=12)
fig.text(793/850, 1 - 598/620, "Wetterzentrale.de", ha='right', va='center', fontsize=12)

# legend (row-wise order: Control, P1 / P2, P3 / ... / P30, Ens. mean / Oper)
h_all = [Line2D([], [], color=control_color, lw=2)] + \
        [Line2D([], [], color=c, lw=2) for c in member_colors]
l_all = ["Control"] + member_names
h_mean = Line2D([], [], color="black", lw=2)
h_oper = Line2D([], [], color=oper_color, lw=2)
col1_h = [h_all[k] for k in range(0, 31, 2)] + [h_oper]
col1_l = [l_all[k] for k in range(0, 31, 2)] + ["Oper"]
col2_h = [h_all[k] for k in range(1, 31, 2)] + [h_mean]
col2_l = [l_all[k] for k in range(1, 31, 2)] + ["Ens. mean"]
fig.legend(col1_h + col2_h, col1_l + col2_l, loc='upper left',
           bbox_to_anchor=(0.0, 1 - 35/620), ncol=2, frameon=False, fontsize=8,
           handlelength=0.75, handletextpad=0.2, columnspacing=0.4,
           labelspacing=0.47, borderaxespad=0, borderpad=0)

fig.savefig("out.png", dpi=100)
